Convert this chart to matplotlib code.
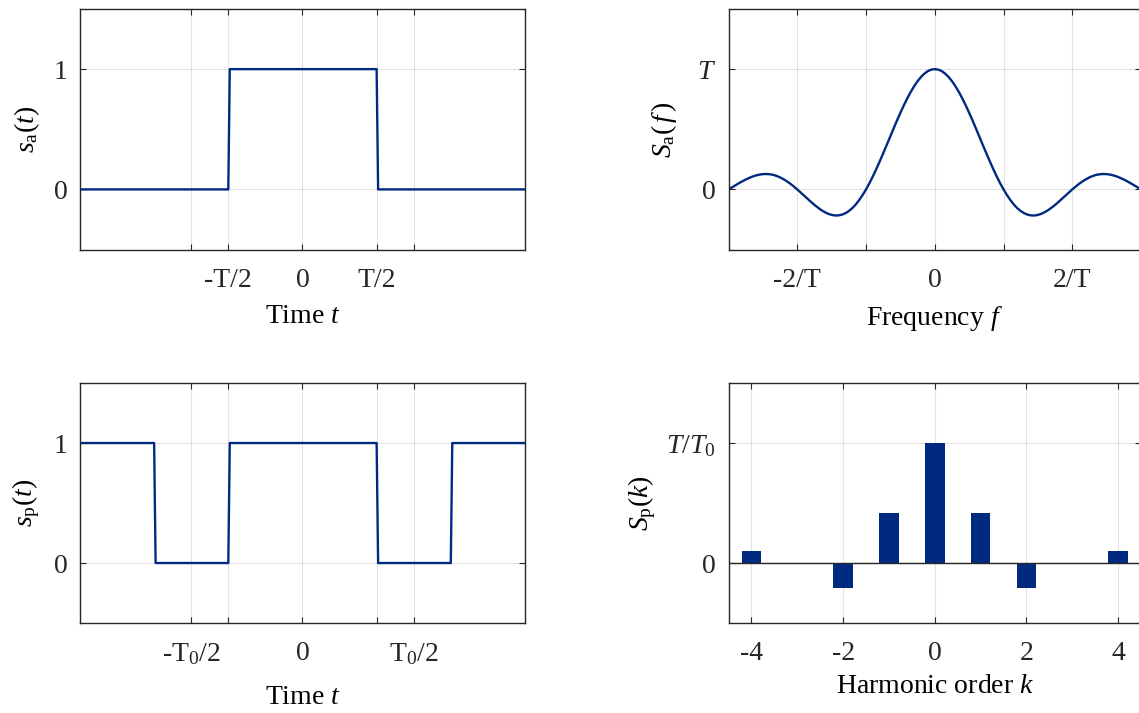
import numpy as np
import matplotlib
matplotlib.use('Agg')
import matplotlib.pyplot as plt

plt.rcParams['font.family'] = ['Liberation Serif', 'DejaVu Serif']
plt.rcParams['mathtext.fontset'] = 'custom'
plt.rcParams['mathtext.rm'] = 'Liberation Serif'
plt.rcParams['mathtext.it'] = 'Liberation Serif:italic'
plt.rcParams['font.size'] = 20
plt.rcParams['text.color'] = '#262626'

BLUE = '#002A80'
DARK = '#262626'

# single pulse s_a(t), T = 1
t_a = [-1.5, -0.5, -0.49, 0.5, 0.51, 1.5]
s_a = [0, 0, 1, 1, 0, 0]

# periodic pulse train s_p(t), T0 = 1.5
t_p = [-1.5, -1.0, -0.99, -0.5, -0.49, 0.5, 0.51, 1.0, 1.01, 1.5]
s_p = [1, 1, 0, 0, 1, 1, 0, 0, 1, 1]

# spectrum S_a(f) in units of T, f in units of 1/T (f >= 0 half, curve is even)
f_pos = [0.0, 0.05, 0.1, 0.15, 0.2, 0.25, 0.3, 0.35, 0.4, 0.45, 0.5,
         0.55, 0.6, 0.65, 0.7, 0.75, 0.8, 0.85, 0.9, 0.95, 1.0,
         1.05, 1.1, 1.15, 1.2, 1.25, 1.3, 1.35, 1.4, 1.45, 1.5,
         1.55, 1.6, 1.65, 1.7, 1.75, 1.8, 1.85, 1.9, 1.95, 2.0,
         2.05, 2.1, 2.15, 2.2, 2.25, 2.3, 2.35, 2.4, 2.45, 2.5,
         2.55, 2.6, 2.65, 2.7, 2.75, 2.8, 2.85, 2.9, 2.95, 3.0]
S_pos = [1.0, 0.996, 0.984, 0.963, 0.935, 0.900, 0.858, 0.810, 0.757, 0.699, 0.637,
         0.572, 0.505, 0.436, 0.368, 0.300, 0.234, 0.170, 0.109, 0.052, 0.0,
         -0.047, -0.089, -0.126, -0.156, -0.180, -0.198, -0.210, -0.216, -0.217, -0.212,
         -0.203, -0.189, -0.172, -0.151, -0.129, -0.104, -0.078, -0.052, -0.026, 0.0,
         0.024, 0.047, 0.067, 0.085, 0.100, 0.112, 0.121, 0.126, 0.128, 0.127,
         0.123, 0.116, 0.107, 0.095, 0.082, 0.067, 0.051, 0.034, 0.017, 0.0]

# Fourier coefficients S_p(k) in units of T/T0
k = [-4, -3, -2, -1, 0, 1, 2, 3, 4]
S_k = [0.103, 0.0, -0.207, 0.413, 1.0, 0.413, -0.207, 0.0, 0.103]

t_ticks = [-0.75, -0.5, 0, 0.5, 0.75]
f_ticks = [-2, -1, 0, 1, 2]
k_ticks = [-4, -2, 0, 2, 4]

f_all = [-x for x in f_pos[::-1]] + f_pos[1:]
S_all = S_pos[::-1] + S_pos[1:]

fig = plt.figure(figsize=(11.39, 7.13), dpi=100)
ax1 = fig.add_axes([0.0702, 0.650, 0.3907, 0.3374])
ax2 = fig.add_axes([0.6396, 0.650, 0.3622, 0.3374])
ax3 = fig.add_axes([0.0702, 0.1262, 0.3907, 0.3366])
ax4 = fig.add_axes([0.6396, 0.1262, 0.3622, 0.3366])


def style(ax):
    ax.grid(True, color=DARK, alpha=0.13, lw=0.8)
    ax.set_axisbelow(True)
    ax.tick_params(direction='in', length=4, width=0.8, color=DARK,
                   top=True, right=True, labelcolor=DARK)
    ax.tick_params(axis='x', pad=13)
    ax.tick_params(axis='y', pad=9)
    for s in ax.spines.values():
        s.set_color(DARK)
        s.set_linewidth(1.0)


ax1.plot(t_a, s_a, color=BLUE, lw=1.7)
ax1.set_xlim(-1.5, 1.5)
ax1.set_ylim(-0.5, 1.5)
ax1.set_xticks(t_ticks)
ax1.set_xticklabels(['', '-T/2', '0', 'T/2', ''])
ax1.set_yticks([0, 1])
ax1.set_yticklabels(['0', '1'])
ax1.set_xlabel('Time $t$', labelpad=8)
ax1.set_ylabel(r'$s_{\mathrm{a}}(t)$', labelpad=8)
style(ax1)

ax2.plot(f_all, S_all, color=BLUE, lw=1.7)
ax2.set_xlim(-3, 3)
ax2.set_ylim(-0.5, 1.5)
ax2.set_xticks(f_ticks)
ax2.set_xticklabels(['-2/T', '', '0', '', '2/T'])
ax2.set_yticks([0, 1])
ax2.set_yticklabels(['0', '$T$'])
ax2.set_xlabel('Frequency $f$', labelpad=8)
ax2.set_ylabel(r'$S_{\mathrm{a}}(\,f\,)$', labelpad=13)
style(ax2)

ax3.plot(t_p, s_p, color=BLUE, lw=1.7)
ax3.set_xlim(-1.5, 1.5)
ax3.set_ylim(-0.5, 1.5)
ax3.set_xticks(t_ticks)
ax3.set_xticklabels(['-T$_0$/2', '', '0', '', 'T$_0$/2'])
ax3.set_yticks([0, 1])
ax3.set_yticklabels(['0', '1'])
ax3.set_xlabel('Time $t$', labelpad=13)
ax3.set_ylabel(r'$s_{\mathrm{p}}(t)$', labelpad=8)
style(ax3)

ax4.bar(k, S_k, width=0.43, color=BLUE)
ax4.axhline(0, color=DARK, lw=1.0)
ax4.set_xlim(-4.5, 4.5)
ax4.set_ylim(-0.5, 1.5)
ax4.set_xticks(k_ticks)
ax4.set_xticklabels(['-4', '-2', '0', '2', '4'])
ax4.set_yticks([0, 1])
ax4.set_yticklabels(['0', r'$\mathit{T/T_0}$'])
ax4.set_xlabel('Harmonic order $k$', labelpad=6)
ax4.set_ylabel(r'$S_{\mathrm{p}}(k)$', labelpad=6)
style(ax4)

fig.savefig('out.png', dpi=100)
